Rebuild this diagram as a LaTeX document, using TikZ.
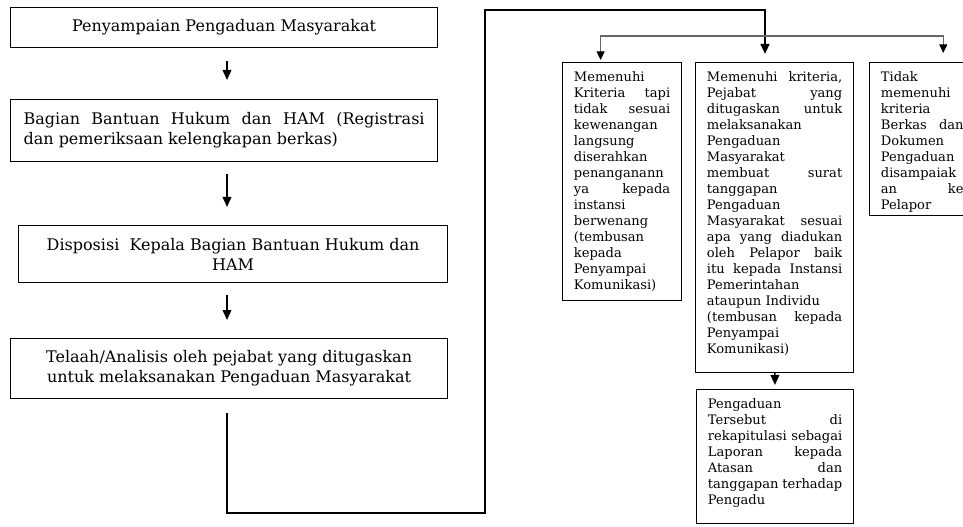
\documentclass[tikz,border=0pt]{standalone}
\usepackage{fontspec}
\setmainfont{DejaVu Serif}
\usetikzlibrary{arrows.meta,calc}
\newcommand{\jline}[1]{\makebox[\hsize][s]{#1}}

\tikzset{
	mainbox/.style={draw, line width=0.9pt, anchor=north west, inner sep=0pt, font=\fontsize{12}{15}\selectfont},
	sidebox/.style={draw, line width=0.9pt, anchor=north west, inner xsep=8.5pt, inner ysep=6.75pt, font=\fontsize{9.8}{12}\selectfont},
	arr/.style={line width=1.1pt, -{Triangle[length=7.5pt,width=6.5pt]}},
	mainconn/.style={line width=1.6pt, -{Triangle[length=7.5pt,width=6.5pt]}},
	thinconn/.style={line width=0.9pt, draw=black!60, -{Triangle[length=6.5pt,width=6pt,color=black]}}
}

\begin{document}
\begin{tikzpicture}[x=0.75pt,y=-0.75pt]
		\useasboundingbox (0,0) rectangle (963,527);
		\clip (0,0) rectangle (963,527);
		\coordinate (spine) at (227,0);
		
		% left column
		\node[mainbox, minimum width=320.25pt, minimum height=30pt] (pengaduan) at (10,7) {Penyampaian Pengaduan Masyarakat};
		\node[mainbox, inner xsep=9.75pt, minimum height=46.5pt] (registrasi) at (10,99)
			{\parbox{300.75pt}{\jline{Bagian Bantuan Hukum dan HAM (Registrasi}\\dan pemeriksaan kelengkapan berkas)}};
		\node[mainbox, minimum width=321.75pt, minimum height=42.75pt, align=center] (disposisi) at (18,225)
			{Disposisi~ Kepala Bagian Bantuan Hukum dan\\HAM};
		\node[mainbox, minimum width=327.75pt, minimum height=45pt, align=center] (telaah) at (10,338)
			{Telaah/Analisis oleh pejabat yang ditugaskan\\untuk melaksanakan Pengaduan Masyarakat};
		
		\draw[arr, shorten <=9.75pt, shorten >=14.25pt] (pengaduan.south -| spine) -- (registrasi.north -| spine);
		\draw[arr, shorten <=9pt, shorten >=13.5pt] (registrasi.south -| spine) -- (disposisi.north -| spine);
		\draw[arr, shorten <=9pt, shorten >=13.5pt] (disposisi.south -| spine) -- (telaah.north -| spine);
		
		% right side
		\node[sidebox] (kewenangan) at (562,62) {\parbox[c][165pt][t]{72.25pt}{%
			Memenuhi\\ \jline{Kriteria tapi}\\ \jline{tidak sesuai}\\ kewenangan\\ langsung\\ diserahkan\\ penanganann\\
			\jline{ya kepada}\\ instansi\\ berwenang\\ (tembusan\\ kepada\\ Penyampai\\ Komunikasi)}};
		\node[sidebox] (tanggapan) at (695,62) {\parbox[c][219pt][t]{101.5pt}{%
			\jline{Memenuhi kriteria,}\\ \jline{Pejabat yang}\\ \jline{ditugaskan untuk}\\ melaksanakan\\ Pengaduan\\ Masyarakat\\
			\jline{membuat surat}\\ tanggapan\\ Pengaduan\\ \jline{Masyarakat sesuai}\\ \jline{apa yang diadukan}\\
			\jline{oleh Pelapor baik}\\ \jline{itu kepada Instansi}\\ Pemerintahan\\ ataupun Individu\\
			\jline{(tembusan kepada}\\ Penyampai\\ Komunikasi)}};
		\node[sidebox] (ditolak) at (869,62) {\parbox[c][101.25pt][t]{62pt}{%
			Tidak\\ memenuhi\\ kriteria\\ \jline{Berkas dan}\\ Dokumen\\ Pengaduan\\ disampaiak\\ \jline{an ke}\\ Pelapor}};
		\node[sidebox] (rekap) at (696,389) {\parbox[c][87pt][t]{100.75pt}{%
			Pengaduan\\ \jline{Tersebut di}\\ \jline{rekapitulasi sebagai}\\ \jline{Laporan kepada}\\ \jline{Atasan dan}\\
			\jline{tanggapan terhadap}\\ Pengadu}};
		
		\coordinate (elbow) at (485,513);
		\coordinate (top) at (765,10);
		\coordinate (split) at (765,36);
		\draw[mainconn, shorten >=6pt] ($(telaah.south -| spine)+(0,14)$) |- (elbow) |- (top) -- (top |- tanggapan.north);
		\draw[thinconn, shorten >=1.5pt] (split) -| ($(kewenangan.north)+(-21.5,0)$);
		\draw[thinconn, shorten >=6.75pt] (split) -| ($(ditolak.north)+(21,0)$);
		\draw[arr, shorten >=3pt] (tanggapan) -- (rekap);
	\end{tikzpicture}
\end{document}
